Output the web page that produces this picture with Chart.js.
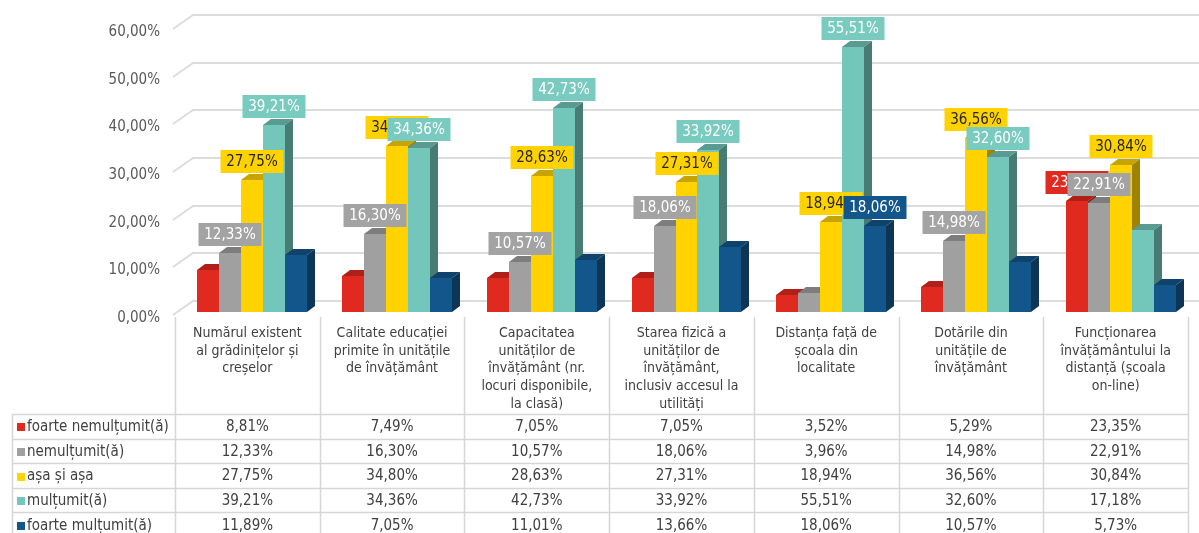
<!DOCTYPE html>
<html>
<head>
<meta charset="utf-8">
<script src="https://cdn.jsdelivr.net/npm/chart.js@4.4.1/dist/chart.umd.min.js"></script>
<style>
  html, body { margin: 0; padding: 0; background: #fff; }
  #wrap { width: 1199px; height: 533px; }
</style>
</head>
<body>
<div id="wrap"><canvas id="bar-chart" width="1199" height="533"></canvas></div>
<script>
const categories = [
  ['Numărul existent', 'al grădinițelor și', 'creșelor'],
  ['Calitate educației', 'primite în unitățile', 'de învățământ'],
  ['Capacitatea', 'unităților de', 'învățământ (nr.', 'locuri disponibile,', 'la clasă)'],
  ['Starea fizică a', 'unităților de', 'învățământ,', 'inclusiv accesul la', 'utilități'],
  ['Distanța față de', 'școala din', 'localitate'],
  ['Dotările din', 'unitățile de', 'învățământ'],
  ['Funcționarea', 'învățământului la', 'distanță (școala', 'on-line)']
];
const seriesNames = ['foarte nemulțumit(ă)', 'nemulțumit(ă)', 'așa și așa', 'mulțumit(ă)', 'foarte mulțumit(ă)'];
const foarteNemultumit = [8.81, 7.49, 7.05, 7.05, 3.52, 5.29, 23.35];
const nemultumit = [12.33, 16.30, 10.57, 18.06, 3.96, 14.98, 22.91];
const asaSiAsa = [27.75, 34.80, 28.63, 27.31, 18.94, 36.56, 30.84];
const multumit = [39.21, 34.36, 42.73, 33.92, 55.51, 32.60, 17.18];
const foarteMultumit = [11.89, 7.05, 11.01, 13.66, 18.06, 10.57, 5.73];
const yTicks = [0, 10, 20, 30, 40, 50, 60];
// bars that carry a value label in the original
const labelShown = [
  [0, 0, 0, 0, 0, 0, 1],
  [1, 1, 1, 1, 0, 1, 1],
  [1, 1, 1, 1, 1, 1, 1],
  [1, 1, 1, 1, 1, 1, 0],
  [0, 0, 0, 0, 1, 0, 0]
];

const seriesData = [foarteNemultumit, nemultumit, asaSiAsa, multumit, foarteMultumit];
const colors = ['#E0291F', '#A0A0A0', '#FFD200', '#72C6BA', '#13568B'];
const labelBg = ['#E0291F', '#A3A3A3', '#FFD200', '#79CABF', '#13568B'];
const labelText = ['#FFFFFF', '#FFFFFF', '#262626', '#FFFFFF', '#FFFFFF'];
const FONT = "'DejaVu Sans Condensed', 'DejaVu Sans', sans-serif";

const fmt = v => v.toFixed(2).replace('.', ',') + '%';

function shade(hex, f) {
  const n = parseInt(hex.slice(1), 16);
  const r = Math.round(((n >> 16) & 255) * f);
  const g = Math.round(((n >> 8) & 255) * f);
  const b = Math.round((n & 255) * f);
  return 'rgb(' + r + ',' + g + ',' + b + ')';
}

const SHIFT = 5, DX = 8, DY = 6;

const bar3d = {
  id: 'bar3d',
  beforeDatasetsDraw(chart) {
    // back wall gridlines with the little perspective corner
    const ctx = chart.ctx, y = chart.scales.y, a = chart.chartArea;
    ctx.save();
    ctx.strokeStyle = '#dcdcdc';
    ctx.lineWidth = 2;
    y.ticks.forEach(t => {
      const py = Math.round(y.getPixelForValue(t.value));
      ctx.beginPath();
      ctx.moveTo(a.left - 2, py + 3);
      ctx.lineTo(a.left + 18, py - 11);
      ctx.lineTo(chart.width, py - 11);
      ctx.stroke();
    });
    ctx.restore();
  },
  beforeDatasetDraw() {
    return false;
  },
  afterDatasetsDraw(chart) {
    const ctx = chart.ctx;
    ctx.save();
    chart.data.datasets.forEach((ds, i) => {
      const meta = chart.getDatasetMeta(i);
      meta.data.forEach(bar => {
        const p = bar.getProps(['x', 'y', 'base', 'width'], true);
        const l = Math.round(p.x - p.width / 2 + SHIFT);
        const r = Math.round(p.x + p.width / 2 + SHIFT);
        const top = Math.round(p.y), base = Math.round(p.base);
        ctx.fillStyle = colors[i];
        ctx.fillRect(l, top, r - l, base - top);
        ctx.fillStyle = shade(colors[i], 0.78);
        ctx.beginPath();
        ctx.moveTo(l, top);
        ctx.lineTo(l + DX, top - DY);
        ctx.lineTo(r + DX, top - DY);
        ctx.lineTo(r, top);
        ctx.closePath();
        ctx.fill();
        ctx.fillStyle = shade(colors[i], 0.62);
        ctx.beginPath();
        ctx.moveTo(r, top);
        ctx.lineTo(r + DX, top - DY);
        ctx.lineTo(r + DX, base - DY);
        ctx.lineTo(r, base);
        ctx.closePath();
        ctx.fill();
      });
    });

    // value labels
    ctx.font = '15px ' + FONT;
    ctx.textAlign = 'center';
    ctx.textBaseline = 'middle';
    chart.data.datasets.forEach((ds, i) => {
      const meta = chart.getDatasetMeta(i);
      meta.data.forEach((bar, j) => {
        if (!labelShown[i][j]) return;
        const p = bar.getProps(['x', 'y'], true);
        const txt = fmt(ds.data[j]);
        const w = Math.round(ctx.measureText(txt).width + 12), h = 23;
        const cx = Math.round(p.x + SHIFT);
        const by = Math.round(p.y) - 7 - h;
        ctx.fillStyle = labelBg[i];
        ctx.fillRect(cx - w / 2, by, w, h);
        ctx.fillStyle = labelText[i];
        ctx.fillText(txt, cx, by + h / 2 + 1);
      });
    });
    ctx.restore();
  },
  afterDraw(chart) {
    // data table under the axis
    const ctx = chart.ctx, xs = chart.scales.x, a = chart.chartArea;
    const n = categories.length;
    const colW = (a.right - a.left) / n;
    const top = 414, rowH = 24.6, leftX = 12;
    ctx.save();
    ctx.strokeStyle = '#d6d6d6';
    ctx.lineWidth = 1.5;
    for (let k = 0; k <= n; k++) {
      const x = Math.round(a.left + k * colW) + 0.5;
      ctx.beginPath();
      ctx.moveTo(x, a.bottom + 5);
      ctx.lineTo(x, chart.height);
      ctx.stroke();
    }
    ctx.beginPath();
    ctx.moveTo(leftX + 0.5, top);
    ctx.lineTo(leftX + 0.5, chart.height);
    ctx.stroke();
    for (let r = 0; r <= seriesData.length; r++) {
      const y = Math.round(top + r * rowH) + 0.5;
      ctx.beginPath();
      ctx.moveTo(leftX, y);
      ctx.lineTo(a.right, y);
      ctx.stroke();
    }
    ctx.font = '15px ' + FONT;
    ctx.textBaseline = 'middle';
    seriesData.forEach((vals, r) => {
      const cy = top + r * rowH + rowH / 2 + 1;
      ctx.fillStyle = colors[r];
      ctx.fillRect(17, Math.round(cy - 4), 8, 8);
      ctx.fillStyle = '#404040';
      ctx.textAlign = 'left';
      ctx.fillText(seriesNames[r], 27, cy);
      ctx.textAlign = 'center';
      vals.forEach((v, j) => {
        ctx.fillText(fmt(v), xs.getPixelForValue(j), cy);
      });
    });
    ctx.restore();
  }
};

const ctx = document.getElementById('bar-chart').getContext('2d');

const chart = new Chart(ctx, {
  type: 'bar',
  data: {
    labels: categories,
    datasets: seriesData.map((d, i) => ({
      label: seriesNames[i],
      data: d,
      backgroundColor: colors[i],
      categoryPercentage: 0.76,
      barPercentage: 1
    }))
  },
  options: {
    responsive: false,
    animation: false,
    devicePixelRatio: 1,
    layout: { padding: { top: 26, right: 11, left: 0, bottom: 0 } },
    plugins: {
      legend: { display: false },
      tooltip: { enabled: false }
    },
    scales: {
      x: {
        grid: { display: false, drawTicks: false },
        border: { display: false },
        ticks: {
          color: '#404040',
          font: { family: FONT, size: 14, lineHeight: 1.28 },
          padding: 12,
          maxRotation: 0,
          minRotation: 0,
          autoSkip: false
        },
        afterFit(s) { s.height = 221; }
      },
      y: {
        min: 0,
        max: 60,
        grid: { display: false, drawTicks: false },
        border: { display: false },
        afterBuildTicks(s) { s.ticks = yTicks.map(v => ({ value: v })); },
        ticks: {
          color: '#595959',
          font: { family: FONT, size: 15 },
          padding: 15,
          labelOffset: 6,
          callback: v => fmt(v)
        },
        afterFit(s) { s.width = 175; }
      }
    }
  },
  plugins: [bar3d]
});
</script>
</body>
</html>
